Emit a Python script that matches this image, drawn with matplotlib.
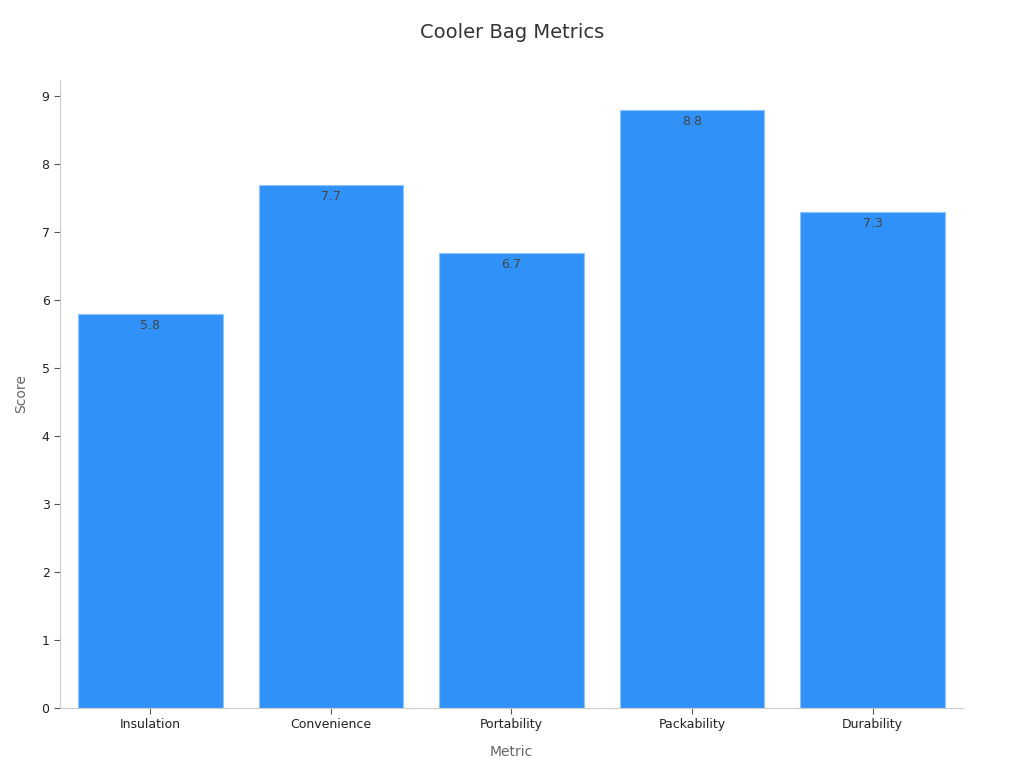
import matplotlib
matplotlib.use("Agg")
import matplotlib.pyplot as plt

# Cooler bag scores per metric
metrics = ["Insulation", "Convenience", "Portability", "Packability", "Durability"]
scores = [5.8, 7.7, 6.7, 8.8, 7.3]

plt.rcParams['font.family'] = ['DejaVu Sans']

fig = plt.figure(figsize=(10.24, 7.68), dpi=100)
ax = fig.add_axes([0.0586, 0.0781, 0.8818, 0.8177])

bars = ax.bar(range(len(metrics)), scores, width=0.8, color='#3092f8',
              edgecolor='#8cc4fb', linewidth=0.8)
for b, v in zip(bars, scores):
    ax.text(b.get_x() + b.get_width() / 2, v - 0.08, f"{v}", ha='center', va='top',
            fontsize=9, color='#444444')

ax.set_xlim(-0.5, len(metrics) - 0.5)
ax.set_ylim(0, max(scores) * 1.05)
ax.set_xticks(range(len(metrics)))
ax.set_xticklabels(metrics)
ax.set_yticks(range(0, 10))

for s in ['top', 'right']:
    ax.spines[s].set_visible(False)
for s in ['left', 'bottom']:
    ax.spines[s].set_color('#cccccc')
ax.tick_params(colors='#222222', labelsize=9, length=4)
ax.tick_params(axis='both', color='#555555')

ax.set_xlabel("Metric", fontsize=10, color='#666666', labelpad=10)
ax.set_ylabel("Score", fontsize=10, color='#666666', labelpad=10)
fig.suptitle("Cooler Bag Metrics", fontsize=14, color='#333333', y=0.97)

fig.savefig("out.png", dpi=100)
